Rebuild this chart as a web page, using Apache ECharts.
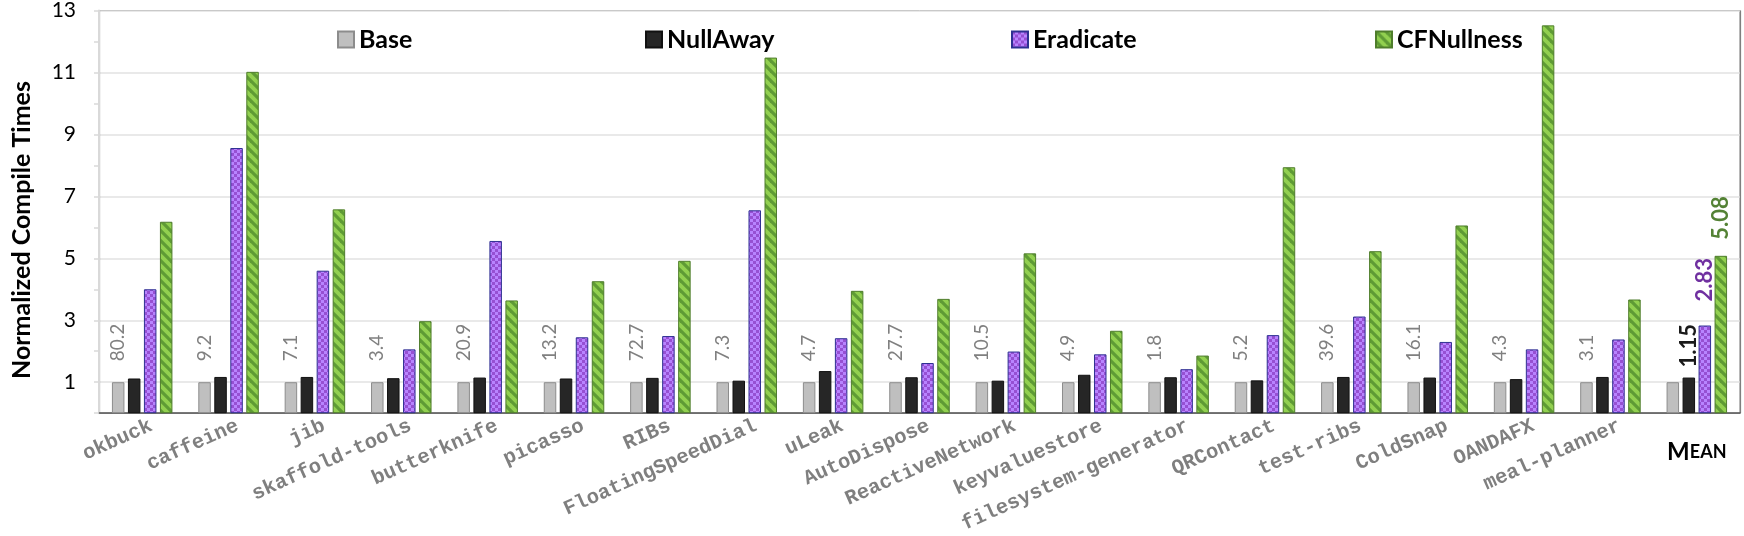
<html>
<head>
	<meta charset="utf-8">
	<title>Normalized Compile Times</title>
	<script src="https://cdn.jsdelivr.net/npm/echarts@6/dist/echarts.min.js"></script>
	<style type="text/css">
		html, body { margin: 0; padding: 0; background: #fff; }
	</style>
</head>
	<body>
		<div id="chart" style="width:1744px;height:536px"></div>
	<script type="text/javascript">
		// categories (last one is the mean group)
		var categories = ['okbuck', 'caffeine', 'jib', 'skaffold-tools', 'butterknife', 'picasso', 'RIBs',
			'FloatingSpeedDial', 'uLeak', 'AutoDispose', 'ReactiveNetwork', 'keyvaluestore',
			'filesystem-generator', 'QRContact', 'test-ribs', 'ColdSnap', 'OANDAFX', 'meal-planner', 'Mean'];
		var baseValues = [1, 1, 1, 1, 1, 1, 1, 1, 1, 1, 1, 1, 1, 1, 1, 1, 1, 1, 1];
		var nullAwayValues = [1.12, 1.17, 1.17, 1.13, 1.15, 1.12, 1.14, 1.05, 1.36, 1.16, 1.05, 1.24, 1.16, 1.06, 1.17, 1.15, 1.10, 1.17, 1.15];
		var eradicateValues = [4.00, 8.56, 4.60, 2.06, 5.56, 2.45, 2.49, 6.55, 2.42, 1.62, 1.99, 1.90, 1.42, 2.52, 3.12, 2.30, 2.06, 2.38, 2.83];
		var cfNullnessValues = [6.18, 11.02, 6.58, 2.97, 3.64, 4.26, 4.92, 11.48, 3.95, 3.69, 5.16, 2.66, 1.86, 7.94, 5.23, 6.06, 12.52, 3.67, 5.08];
		// base compile times printed above the Base bars
		var baseTimes = ['80.2', '9.2', '7.1', '3.4', '20.9', '13.2', '72.7', '7.3', '4.7', '27.7', '10.5', '4.9', '1.8', '5.2', '39.6', '16.1', '4.3', '3.1'];
		var yTicks = [1, 3, 5, 7, 9, 11, 13];

		var meanIndex = categories.length - 1;

		// fill patterns
		function checker() {
			var c = document.createElement('canvas');
			c.width = 6; c.height = 6;
			var g = c.getContext('2d');
			g.fillStyle = '#b884ff'; g.fillRect(0, 0, 6, 6);
			g.fillStyle = '#9650d2'; g.fillRect(0, 0, 3, 3); g.fillRect(3, 3, 3, 3);
			return c;
		}
		function stripes() {
			var c = document.createElement('canvas');
			c.width = 10; c.height = 10;
			var g = c.getContext('2d');
			g.fillStyle = '#92d050'; g.fillRect(0, 0, 10, 10);
			g.strokeStyle = '#5f9b35'; g.lineWidth = 3.2;
			[-10, 0, 10].forEach(function (k) {
				g.beginPath(); g.moveTo(k - 2, -2); g.lineTo(k + 12, 12); g.stroke();
			});
			return c;
		}

		var fontUI = 'Lato, "Open Sans", sans-serif';

		function legendAt(name, left) {
			return {
				data: [name], left: left, top: 22, itemWidth: 16, itemHeight: 16,
				icon: 'rect', selectedMode: false,
				textStyle: { fontFamily: fontUI, fontWeight: 'bold', fontSize: 25, color: '#000' }
			};
		}

		function meanLabel(color, dist) {
			return {
				show: true, position: 'top', rotate: 90, align: 'left', verticalAlign: 'middle',
				distance: dist, color: color, fontFamily: fontUI, fontWeight: 'bold', fontSize: 22,
				formatter: function (p) { return p.dataIndex === meanIndex ? p.value.toFixed(2) : ''; }
			};
		}

		var barW = 12.5;
		var chart = echarts.init(document.getElementById('chart'));
		var option = {
			animation: false,
			backgroundColor: '#fff',
			grid: { left: 99, right: 4, top: 10, bottom: 117.5, containLabel: false,
				show: true, borderColor: '#7f7f7f', borderWidth: 1, backgroundColor: 'transparent' },
			legend: [
				legendAt('Base', 332),
				legendAt('NullAway', 640),
				legendAt('Eradicate', 1006),
				legendAt('CFNullness', 1370)
			],
			xAxis: [{
				type: 'category',
				data: categories,
				axisLine: { lineStyle: { color: '#595959', width: 1.5 } },
				axisTick: { show: false },
				splitLine: { show: true, interval: function (i) { return i === meanIndex; },
					lineStyle: { color: '#7f7f7f', width: 1.2 } },
				axisLabel: {
					interval: 0, rotate: 24, margin: 16, padding: [0, -10, 0, 0],
					fontFamily: '"Courier New", "Liberation Mono", monospace', fontWeight: 'bold',
					fontSize: 20.5, color: '#7f7f7f',
					formatter: function (v, i) { return i === meanIndex ? '' : v; }
				}
			}, {
				type: 'category',
				data: categories,
				position: 'bottom',
				axisLine: { show: false },
				axisTick: { show: false },
				axisLabel: {
					interval: 0, margin: 27,
					formatter: function (v, i) { return i === meanIndex ? '{m|M}{s|EAN}' : ''; },
					rich: {
						m: { fontFamily: fontUI, fontWeight: 'bold', fontSize: 24, color: '#000' },
						s: { fontFamily: fontUI, fontWeight: 'bold', fontSize: 18, color: '#000' }
					}
				}
			}],
			yAxis: {
				type: 'value', min: 0, max: 13, interval: 1,
				axisLine: { show: true, lineStyle: { color: '#d9d9d9', width: 2 } },
				axisTick: { show: true, length: 5, lineStyle: { color: '#d9d9d9', width: 1.5 } },
				splitLine: { show: true, lineStyle: { color: ['transparent', '#e2e2e2'], width: 1.5 } },
				axisLabel: {
					margin: 23, fontFamily: fontUI, fontSize: 21, color: '#000',
					formatter: function (v) { return yTicks.indexOf(v) >= 0 ? String(v) : ''; }
				}
			},
			graphic: [{
				type: 'text', x: 22, y: 230, rotation: Math.PI / 2,
				style: { text: 'Normalized Compile Times', x: 0, y: 0, align: 'center', verticalAlign: 'middle',
					font: 'bold 25px ' + fontUI, fill: '#000' }
			}],
			series: [{
				name: 'Base', type: 'bar', data: baseValues, barWidth: barW, barGap: '28%',
				itemStyle: { color: '#bfbfbf', borderColor: '#8c8c8c', borderWidth: 1 },
				label: {
					show: true, position: 'top', rotate: 90, align: 'left', verticalAlign: 'middle',
					distance: 21, color: '#808080', fontFamily: fontUI, fontSize: 19,
					formatter: function (p) { return p.dataIndex < baseTimes.length ? baseTimes[p.dataIndex] : ''; }
				}
			}, {
				name: 'NullAway', type: 'bar', data: nullAwayValues, barWidth: barW, barGap: '28%',
				itemStyle: { color: '#262626', borderColor: '#111', borderWidth: 1 },
				label: meanLabel('#1a1a1a', 10)
			}, {
				name: 'Eradicate', type: 'bar', data: eradicateValues, barWidth: barW, barGap: '28%',
				itemStyle: { color: { image: checker(), repeat: 'repeat' }, borderColor: '#2e3192', borderWidth: 1 },
				label: meanLabel('#7030a0', 24)
			}, {
				name: 'CFNullness', type: 'bar', data: cfNullnessValues, barWidth: barW, barGap: '28%',
				itemStyle: { color: { image: stripes(), repeat: 'repeat' }, borderColor: '#4f7d2c', borderWidth: 1 },
				label: meanLabel('#548235', 16)
			}]
		};
		chart.setOption(option);
	</script>
	</body>
</html>
